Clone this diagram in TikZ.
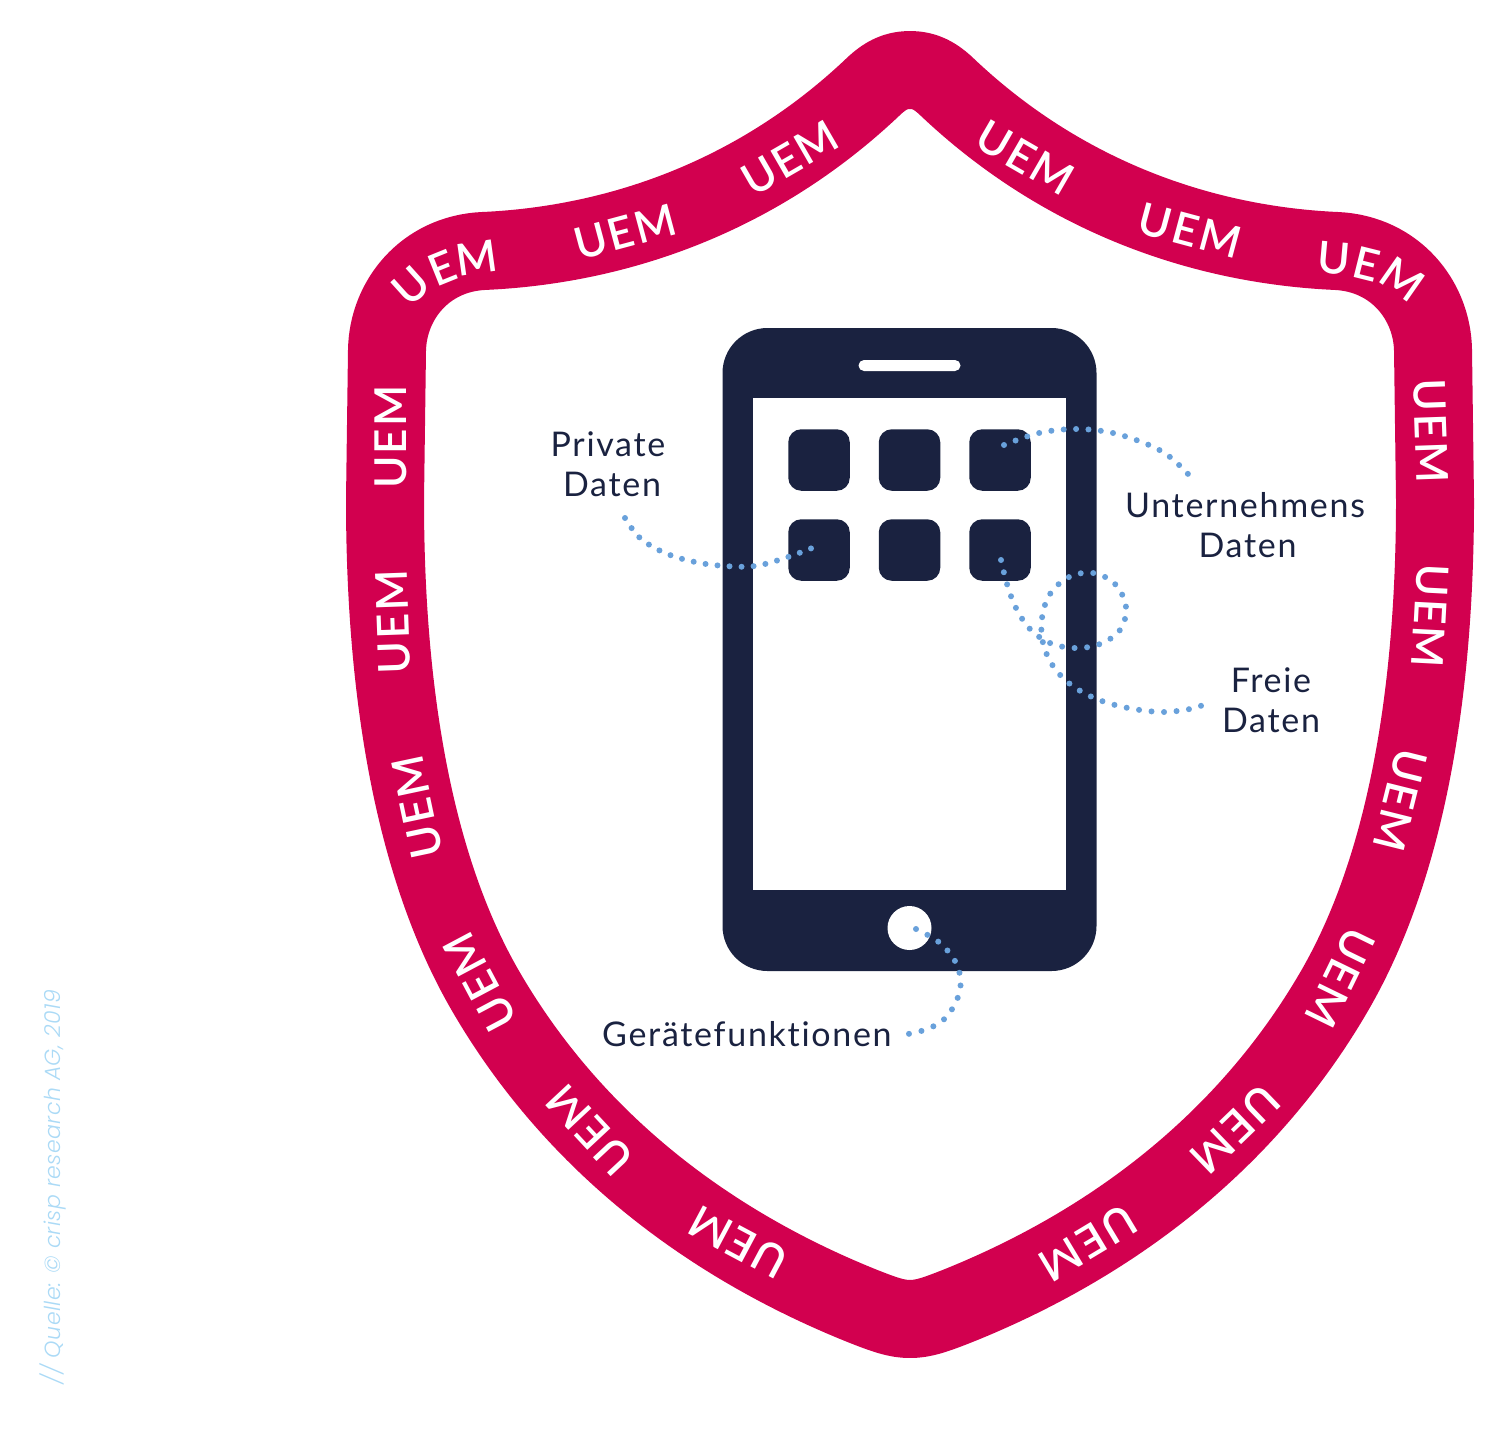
\documentclass[tikz,border=0pt]{standalone}
\usepackage{fontspec}
\setmainfont{Lato}
\newfontfamily\uemfont[LetterSpace=5]{Lato Semibold}
\newfontfamily\labelfont[LetterSpace=5,Ligatures=NoCommon]{Lato}
\newfontfamily\srcfont[LetterSpace=2]{Poppins Light Italic}
\definecolor{crim}{HTML}{D2004F}
\definecolor{navy}{HTML}{1A2240}
\definecolor{dotblue}{HTML}{69A1DB}
\definecolor{srcblue}{HTML}{ABDAF6}
\tikzset{
  uemtxt/.style={text=white,inner sep=0pt,font=\uemfont\fontsize{44}{44}\selectfont},
  uemchar/.style={text=white,inner sep=0pt,font=\uemfont\fontsize{44}{44}\selectfont},
  lbl/.style={text=navy,inner sep=0pt,align=center,font=\labelfont\fontsize{34}{40}\selectfont},
  phonebody/.style={fill=navy,inner sep=0pt,minimum width=374pt,minimum height=643pt,rounded corners=45pt},
  screenbox/.style={fill=white,inner sep=0pt,minimum width=313pt,minimum height=492pt},
  speakerbox/.style={fill=white,inner sep=0pt,minimum width=102pt,minimum height=11pt,rounded corners=5.5pt},
  homebtn/.style={circle,fill=white,inner sep=0pt,minimum size=44pt},
  appbox/.style={fill=navy,inner sep=0pt,minimum width=61.5pt,minimum height=61.5pt,rounded corners=13pt},
  dotlink/.style={dotblue,line width=6pt,line cap=round,dash pattern=on 0pt off #1},
  dotlink/.default=12.4pt,
}
\begin{document}
\begin{tikzpicture}[x=1pt,y=-1pt]
\useasboundingbox (0,0) rectangle (1506,1430);
% shield
\draw[crim,line width=78pt,line join=round]
 (910,70) .. controls (925,70) and (935,76) .. (945,85)
 .. controls (1060,195) and (1200,245) .. (1337,251)
 .. controls (1395,254) and (1432,300) .. (1433,350)
 -- (1435,500)
 .. controls (1435,680) and (1410,860) .. (1335,990)
 .. controls (1250,1137) and (1118,1241) .. (960,1305)
 .. controls (935,1315) and (923,1319) .. (910,1319)
 .. controls (897,1319) and (885,1315) .. (860,1305)
 .. controls (702,1241) and (570,1137) .. (485,990)
 .. controls (410,860) and (385,680) .. (385,500)
 -- (387,350)
 .. controls (388,300) and (425,254) .. (483,251)
 .. controls (620,245) and (760,195) .. (875,85)
 .. controls (885,76) and (895,70) .. (910,70) -- cycle;
% UEM lettering
\node[uemchar,rotate=42] (ua) at (411,286) {U};
\node[uemchar,rotate=22] (ub) at (442,268) {E};
\node[uemchar,rotate=8] (uc) at (477,258) {M};
\node[uemtxt,rotate=15] (u2) at (625,232) {UEM};
\node[uemtxt,rotate=30] (u3) at (790,158) {UEM};
\node[uemtxt,rotate=-30] (u4) at (1025,158) {UEM};
\node[uemtxt,rotate=-15] (u5) at (1190,231) {UEM};
\node[uemchar,rotate=-5] (ud) at (1334,258) {U};
\node[uemchar,rotate=-14] (ue) at (1367,264) {E};
\node[uemchar,rotate=-35] (uf) at (1402,279) {M};
\node[uemtxt,rotate=-88] (r1) at (1431,431) {UEM};
\node[uemtxt,rotate=-93] (r2) at (1430,616) {UEM};
\node[uemtxt,rotate=-104] (r3) at (1400,800) {UEM};
\node[uemtxt,rotate=-116] (r4) at (1340,978) {UEM};
\node[uemtxt,rotate=-136] (r5) at (1235,1129) {UEM};
\node[uemtxt,rotate=-149] (r6) at (1088,1243) {UEM};
\node[uemtxt,rotate=90] (l1) at (391,437) {UEM};
\node[uemtxt,rotate=92] (l2) at (393,622) {UEM};
\node[uemtxt,rotate=102] (l3) at (417,807) {UEM};
\node[uemtxt,rotate=118] (l4) at (480,982) {UEM};
\node[uemtxt,rotate=133] (l5) at (590,1130) {UEM};
\node[uemtxt,rotate=152] (l6) at (738,1242) {UEM};
% phone
\node[phonebody] (phone) at (909.5,649.5) {};
\node[screenbox] (screen) at (909.5,644) {};
\node[speakerbox] (speaker) at (909.5,365.5) {};
\node[homebtn] (home) at (909.5,928) {};
\node[appbox] (a1) at (819,460) {};
\node[appbox] (a2) at (909.5,460) {};
\node[appbox] (a3) at (1000,460) {};
\node[appbox] (a4) at (819,550) {};
\node[appbox] (a5) at (909.5,550) {};
\node[appbox] (a6) at (1000,550) {};
% labels
\node[lbl] (private) at (608,464) {Private\\[0pt]\hspace{8pt}Daten};
\node[lbl] (unter) at (1245,525) {Unternehmens\\[0pt]\hspace{5pt}Daten};
\node[lbl] (freie) at (1271,700.5) {Freie\\[0pt]Daten};
\node[lbl,anchor=west] (geraet) at (602,1034) {Gerätefunktionen};
\node[rotate=90,text=srcblue,inner sep=0pt,anchor=west,font=\srcfont\fontsize{22}{22}\selectfont] (src) at (53,1385) {// Quelle: © crisp research AG, 2019};
% connectors
\coordinate (c1a) at (625,518); \coordinate (c1b) at (812,548);
\coordinate (c2a) at (1188,474); \coordinate (c2b) at (1004,445);
\coordinate (c3a) at (1203,705); \coordinate (c3b) at (1001,560);
\coordinate (c4a) at (908,1034); \coordinate (c4b) at (916,929);
\draw[dotlink=12.05pt] plot[smooth,tension=.6] coordinates {(c1a) (640,538) (665,553) (695,562) (725,566) (755,566) (785,558) (c1b)};
\draw[dotlink] plot[smooth,tension=.6] coordinates {(c2b) (1039,433) (1076,429) (1113,433) (1149,445) (1170,457) (c2a)};
\draw[dotlink=12.55pt] plot[smooth,tension=.6] coordinates {(c3b) (1007,584) (1016,608) (1030,629) (1050,643) (1075,648) (1100,644) (1120,630) (1126,607) (1115,584) (1093,573) (1069,577) (1050,594) (1042,618) (1043,643) (1053,666) (1070,684) (1092,697) (1115,705) (1140,710) (1165,712) (1190,709) (c3a)};
\draw[dotlink=12.8pt] plot[smooth,tension=.6] coordinates {(c4b) (940,943) (957,965) (960,990) (948,1015) (930,1028) (c4a)};
\end{tikzpicture}
\end{document}
